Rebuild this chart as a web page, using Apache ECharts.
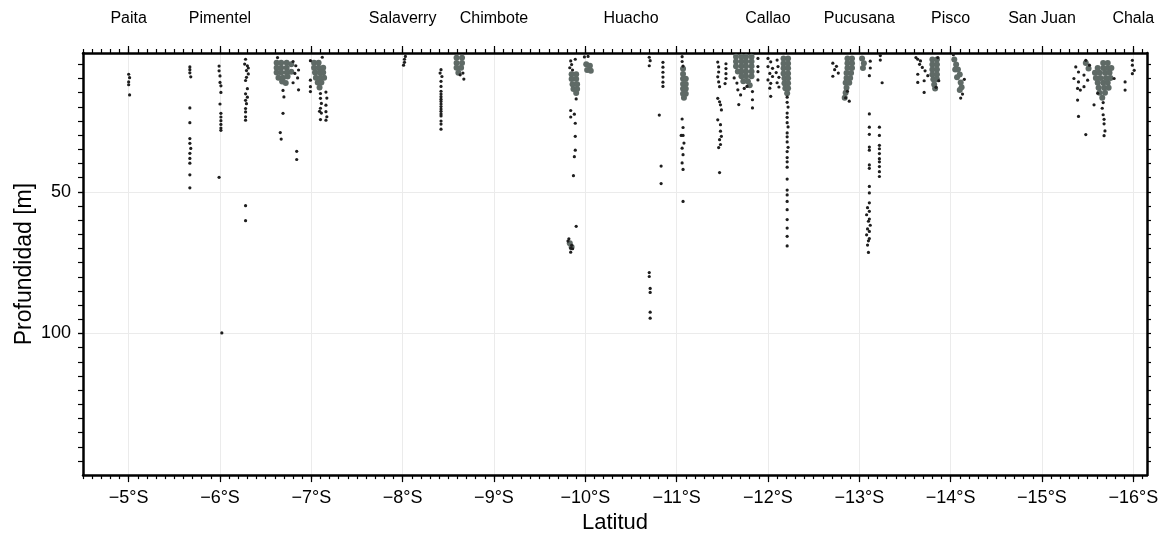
<!DOCTYPE html>
<html>
<head>
<meta charset="utf-8">
<script src="https://cdn.jsdelivr.net/npm/echarts@6/dist/echarts.min.js"></script>
<style>
  html, body { margin: 0; padding: 0; background: #fff; }
  #chart { width: 1165px; height: 539px; }
</style>
</head>
<body>
<div id="chart"></div>
<script>
// puertos arriba del grafico
var portNames = ['Paita', 'Pimentel', 'Salaverry', 'Chimbote', 'Huacho', 'Callao', 'Pucusana', 'Pisco', 'San Juan', 'Chala'];
var portLats = [-5, -6, -8, -9, -10.5, -12, -13, -14, -15, -16];
var latTicks = [-5, -6, -7, -8, -9, -10, -11, -12, -13, -14, -15, -16];
var depthLabels = [50, 100];
var depthTicks = [5, 10, 15, 20, 25, 30, 35, 40, 45, 50, 55, 60, 65, 70, 75, 80, 85, 90, 95, 100, 105, 110, 115, 120, 125, 130, 135, 140, 145];

// puntos sueltos [latitud, profundidad]
var dotsNorth = [
  [-5.00,8.5],[-5.01,9.7],[-5.00,11.2],[-5.00,12.2],[-5.01,15.8],
  [-5.67,5.9],[-5.67,6.9],[-5.67,8.0],[-5.68,9.4],[-5.67,20.4],[-5.67,25.6],[-5.67,31.2],[-5.67,32.9],[-5.68,34.7],[-5.67,36.4],[-5.67,38.2],[-5.67,39.9],[-5.67,44.0],[-5.67,48.6],
  [-5.99,5.6],[-5.99,7.3],[-6.00,9.1],[-6.00,11.4],[-6.01,12.6],[-6.01,14.9],[-6.00,19.0],[-6.01,22.3],[-6.01,23.6],[-6.01,24.9],[-6.01,26.2],[-6.01,27.5],[-6.01,28.3],[-5.99,44.9],[-6.02,99.8],
  [-6.28,3.2],[-6.27,4.9],[-6.30,5.5],[-6.31,6.3],[-6.29,7.2],[-6.31,8.4],[-6.29,9.6],[-6.28,10.7],[-6.30,13.6],[-6.28,15.4],[-6.30,16.6],[-6.28,17.7],[-6.29,18.9],[-6.28,20.6],[-6.28,21.8],[-6.28,23.5],[-6.28,24.7],[-6.28,54.9],[-6.28,60.2],
  [-6.63,2.6],[-6.69,14.2],[-6.86,14.0],[-6.70,16.5],[-6.69,22.3],[-6.66,29.1],[-6.67,31.4],[-6.84,35.7],[-6.84,38.6],
  [-6.80,4.0],[-6.83,5.5],[-6.86,7.0],[-6.82,8.2],[-6.85,9.8],[-6.80,11.5],
  [-6.99,3.7],[-7.12,2.5],[-6.99,10.6],[-6.99,12.9],[-6.99,14.6],[-7.10,15.3],[-7.10,17.0],[-7.11,18.8],[-7.10,20.5],[-7.11,22.2],[-7.10,24.5],
  [-7.16,19.4],[-7.16,21.7],[-7.17,23.5],[-7.16,24.7],[-7.09,21.6],[-7.16,14.8],[-7.17,16.9]
];
var dotsCentral = [
  [-8.03,2.2],[-8.02,3.2],[-8.02,4.3],[-8.01,5.3],
  [-8.42,6.9],[-8.41,8.1],[-8.43,9.3],[-8.42,11.0],[-8.42,12.8],[-8.42,14.5],[-8.42,15.5],[-8.42,16.4],[-8.42,17.3],[-8.42,18.1],[-8.42,19.0],[-8.42,19.9],[-8.42,20.8],[-8.42,21.6],[-8.42,22.5],[-8.42,23.2],[-8.42,25.0],[-8.42,26.1],[-8.42,27.9],
  [-8.66,8.1],[-8.67,10.2],[-8.63,8.7],
  [-9.89,3.2],[-9.84,3.8],[-9.85,5.1],[-9.83,6.2],[-9.86,7.0],[-9.90,17.2],[-9.84,21.3],[-9.84,23.6],[-9.88,22.6],[-9.89,25.8],[-9.89,30.4],[-9.89,35.3],[-9.88,37.6],[-9.87,44.3],[-9.90,62.2],
  [-9.82,66.6],[-9.81,67.4],[-9.85,68.9],[-9.84,69.9],[-9.86,70.1],[-9.84,71.3],
  [-10.03,2.2],[-9.99,2.4],
  [-10.70,2.5],[-10.71,3.7],[-10.70,5.5],[-10.70,78.5],[-10.70,79.9],[-10.71,84.1],[-10.71,85.5],[-10.71,92.5],[-10.71,94.6],
  [-10.85,4.3],[-10.85,6.0],[-10.85,7.8],[-10.85,9.5],[-10.85,11.3],[-10.85,12.8],[-10.81,22.9],[-10.83,40.9],[-10.83,47.1],
  [-11.06,2.3],[-11.06,4.0],[-11.07,5.6],[-11.06,24.3],[-11.07,27.3],[-11.07,30.1],[-11.05,30.1],[-11.08,32.8],[-11.06,34.6],[-11.07,36.9],[-11.06,39.8],[-11.07,42.1],[-11.07,53.4]
];
var dotsCallao = [
  [-11.45,4.2],[-11.46,5.9],[-11.46,7.7],[-11.45,9.4],[-11.46,11.2],[-11.47,12.9],[-11.54,4.8],[-11.54,6.5],[-11.54,8.3],[-11.54,10.0],[-11.53,11.8],
  [-11.45,17.0],[-11.47,18.2],[-11.48,19.3],[-11.49,21.1],[-11.45,24.6],[-11.48,26.3],[-11.48,28.6],[-11.49,30.4],[-11.47,31.6],[-11.48,33.3],[-11.46,34.4],[-11.47,43.2],
  [-11.67,14.0],[-11.70,15.8],[-11.68,19.2],[-11.77,12.8],[-11.83,14.6],[-11.83,17.5],[-11.83,20.4],[-11.89,2.9],[-11.89,5.8],[-11.89,7.6],[-11.89,10.5],[-11.74,13.5],[-11.66,11.6],[-11.63,9.8],
  [-12.00,2.9],[-12.03,4.1],[-12.00,5.8],[-12.05,6.4],[-12.02,8.2],[-12.05,9.3],[-12.00,10.5],[-12.03,11.7],[-12.02,13.4],[-12.03,16.3],
  [-12.10,3.5],[-12.11,5.8],[-12.09,7.9],[-12.12,9.6],[-12.10,11.5],[-12.12,13.0],
  [-12.21,16.6],[-12.21,18.4],[-12.22,20.1],[-12.21,22.2],[-12.21,23.7],[-12.21,25.6],[-12.22,27.1],[-12.21,29.2],[-12.21,30.6],[-12.21,32.4],[-12.22,34.3],[-12.21,35.8],[-12.21,37.9],[-12.21,39.4],[-12.21,41.3],
  [-12.21,45.5],[-12.21,49.4],[-12.21,51.1],[-12.21,53.4],[-12.21,56.3],[-12.21,59.8],[-12.21,62.8],[-12.21,65.7],[-12.21,69.1]
];
var dotsSouth = [
  [-12.71,4.6],[-12.75,5.7],[-12.73,6.9],[-12.77,8.1],[-12.71,9.2],
  [-12.87,14.5],[-12.85,16.8],[-12.89,18.0],
  [-13.12,3.9],[-13.12,6.3],[-13.11,9.0],[-13.23,1.9],[-13.23,3.5],[-13.25,11.5],
  [-13.11,22.5],[-13.11,27.2],[-13.11,29.7],[-13.11,34.2],[-13.11,35.3],[-13.11,40.5],[-13.11,41.7],[-13.11,48.1],[-13.11,50.4],[-13.11,53.9],
  [-13.09,55.6],[-13.11,56.9],[-13.08,58.1],[-13.11,59.6],[-13.10,60.4],[-13.12,61.8],[-13.09,63.1],[-13.11,64.0],[-13.08,65.2],[-13.11,66.5],[-13.10,67.3],[-13.09,68.8],[-13.10,71.4],
  [-13.22,27.2],[-13.22,30.1],[-13.22,33.6],[-13.22,34.8],[-13.22,36.5],[-13.22,38.3],[-13.22,39.4],[-13.22,41.1],[-13.22,42.9],[-13.22,44.6],
  [-13.64,3.2],[-13.67,3.8],[-13.66,5.0],[-13.62,2.6],[-13.69,6.1],[-13.72,7.3],[-13.64,8.5],[-13.75,9.0],[-13.71,10.8],[-13.64,11.4],[-13.71,14.9],[-13.84,13.1],[-13.87,10.8],[-13.86,2.6],
  [-14.13,15.5],[-14.11,16.9],[-14.03,1.6],[-14.15,10.3],
  [-15.67,18.5],[-15.66,20.5],[-15.67,22.8],[-15.68,24.4],[-15.68,26.0],[-15.69,28.5],[-15.68,30.2],
  [-15.48,3.6],[-15.52,5.3],[-15.37,5.9],[-15.40,7.7],[-15.46,8.8],[-15.35,10.0],[-15.40,11.2],[-15.50,10.6],[-15.39,13.5],[-15.46,12.9],[-15.42,14.1],[-15.39,17.6],[-15.40,23.4],[-15.48,29.8],[-15.57,19.3],[-15.61,15.2],[-15.79,10.0],
  [-15.91,11.2],[-15.91,14.1],[-15.99,3.6],[-15.99,5.3],[-16.01,7.1],[-15.99,8.3]
];

// zonas densas (cardumenes)
var denseNorth = [
  [-6.62,4.4],[-6.67,4.4],[-6.73,4.4],[-6.78,5.0],[-6.62,6.2],[-6.67,6.2],[-6.73,6.2],[-6.62,7.9],[-6.67,7.9],[-6.73,7.9],[-6.78,7.6],[-6.64,9.7],[-6.69,9.7],[-6.74,9.3],[-6.68,11.1],[-6.72,11.6],
  [-7.03,4.4],[-7.08,4.4],[-7.03,6.2],[-7.08,6.2],[-7.13,6.2],[-7.04,7.9],[-7.09,7.9],[-7.13,7.9],[-7.05,9.7],[-7.10,9.7],[-7.14,9.7],[-7.07,11.4],[-7.11,11.4],[-7.09,13.2]
];
var denseCentral = [
  [-8.59,2.7],[-8.65,2.7],[-8.59,4.5],[-8.65,4.5],[-8.59,6.2],[-8.64,6.2],[-8.61,8.0],
  [-9.85,8.5],[-9.90,8.5],[-9.85,10.2],[-9.90,10.2],[-9.86,12.0],[-9.91,12.0],[-9.87,13.7],[-9.91,13.7],[-9.90,15.1],[-9.83,68.2],[-9.85,69.5],
  [-10.01,5.0],[-10.05,5.5],[-10.02,7.0],[-10.06,7.3],
  [-11.07,6.6],[-11.07,8.4],[-11.07,10.1],[-11.10,10.1],[-11.07,11.9],[-11.10,11.9],[-11.07,13.6],[-11.10,13.6],[-11.07,15.4],[-11.10,15.4],[-11.08,16.8]
];
var denseCallao = [
  [-11.65,2.3],[-11.71,2.3],[-11.76,2.3],[-11.82,2.3],[-11.65,4.0],[-11.71,4.0],[-11.76,4.0],[-11.82,4.0],[-11.65,5.7],[-11.71,5.7],[-11.76,5.7],[-11.82,5.7],
  [-11.67,7.5],[-11.71,7.5],[-11.76,7.5],[-11.82,7.5],[-11.71,9.2],[-11.76,9.2],[-11.82,9.2],[-11.73,11.0],[-11.78,11.0],[-11.80,12.4],
  [-12.17,2.9],[-12.22,2.9],[-12.17,4.7],[-12.22,4.7],[-12.17,6.4],[-12.22,6.4],[-12.17,8.2],[-12.22,8.2],[-12.18,9.9],[-12.22,9.9],[-12.18,11.7],[-12.22,11.7],[-12.19,13.4],[-12.22,13.4],[-12.21,15.2]
];
var denseSouth = [
  [-12.87,2.9],[-12.92,2.9],[-12.87,4.6],[-12.92,4.6],[-12.87,6.3],[-12.92,6.3],[-12.86,8.1],[-12.91,8.1],[-12.86,9.8],[-12.90,9.8],[-12.85,11.5],[-12.89,11.5],[-12.86,13.3],[-12.85,15.0],[-12.84,16.8],
  [-13.03,2.9],[-13.05,4.6],[-13.04,6.3],
  [-13.80,3.3],[-13.85,3.3],[-13.80,5.1],[-13.85,5.1],[-13.80,6.8],[-13.85,6.8],[-13.80,8.6],[-13.85,8.6],[-13.81,10.3],[-13.85,10.3],[-13.82,12.1],[-13.83,13.5],
  [-14.04,3.3],[-14.06,5.1],[-14.05,6.8],[-14.08,6.8],[-14.10,8.6],[-14.07,9.6],[-14.11,11.4],[-14.12,13.1],[-14.10,14.1],
  [-15.67,4.5],[-15.72,4.5],[-15.61,6.3],[-15.67,6.3],[-15.72,6.3],[-15.76,6.3],[-15.58,8.0],[-15.63,8.0],[-15.69,8.0],[-15.74,8.0],
  [-15.59,9.8],[-15.64,9.8],[-15.70,9.8],[-15.75,9.8],[-15.61,11.5],[-15.67,11.5],[-15.72,11.5],[-15.62,13.3],[-15.68,13.3],[-15.73,13.3],
  [-15.63,15.0],[-15.69,15.0],[-15.66,16.8],[-15.48,4.5],[-15.51,6.5]
];

var minorLatTicks = [];
for (var i = -161; i <= -45; i++) minorLatTicks.push(i / 10);

var font = 'Liberation Sans, Arial, sans-serif';
var black = '#000';
var LAT_MIN = -16.15, LAT_MAX = -4.5;

function latAxis(pos, ticks, len, opts) {
  return Object.assign({
    type: 'value', position: pos, min: LAT_MIN, max: LAT_MAX, inverse: true,
    axisLine: { show: false },
    axisTick: { show: true, customValues: ticks, length: len, lineStyle: { color: black, width: 1.2 } },
    axisLabel: { show: false },
    splitLine: { show: false }
  }, opts || {});
}
function depthAxis(pos, ticks, len, opts) {
  return Object.assign({
    type: 'value', position: pos, min: 1, max: 150, inverse: true,
    axisLine: { show: false },
    axisTick: { show: true, customValues: ticks, length: len, lineStyle: { color: black, width: 1.2 } },
    axisLabel: { show: false },
    splitLine: { show: false }
  }, opts || {});
}

var myChart = echarts.init(document.getElementById('chart'));
myChart.setOption({
  animation: false,
  backgroundColor: '#fff',
  textStyle: { fontFamily: font },
  grid: { left: 83, right: 18, top: 53, bottom: 59 },
  xAxis: [
    latAxis('bottom', latTicks, 7, {
      axisLine: { show: true, onZero: false, lineStyle: { color: black, width: 2.5 } },
      axisLabel: {
        show: true, customValues: latTicks, margin: 14, color: black, fontSize: 18, fontFamily: font,
        formatter: function (v) { return '\u2212' + Math.abs(v) + '°S'; }
      },
      splitLine: { show: true, lineStyle: { color: '#ebebeb', width: 1 } },
      name: 'Latitud', nameLocation: 'middle', nameGap: 36,
      nameTextStyle: { color: black, fontSize: 22, fontFamily: font }
    }),
    latAxis('bottom', minorLatTicks, 4),
    latAxis('top', latTicks, 7, {
      axisLine: { show: true, onZero: false, lineStyle: { color: black, width: 2.5 } }
    }),
    latAxis('top', minorLatTicks, 4),
    latAxis('top', portLats, 0, {
      axisTick: { show: false },
      axisLabel: {
        show: true, customValues: portLats, margin: 26, color: black, fontSize: 16, fontFamily: font,
        formatter: function (v) {
          for (var k = 0; k < portLats.length; k++) {
            if (Math.abs(portLats[k] - v) < 1e-6) return portNames[k];
          }
          return '';
        }
      }
    })
  ],
  yAxis: [
    depthAxis('left', depthLabels, 5, {
      axisLine: { show: true, onZero: false, lineStyle: { color: black, width: 2.5 } },
      axisLabel: { show: true, customValues: depthLabels, margin: 12, color: black, fontSize: 18, fontFamily: font },
      splitLine: { show: true, lineStyle: { color: '#ebebeb', width: 1 } },
      name: 'Profundidad [m]', nameLocation: 'middle', nameGap: 47, nameMoveOverlap: false,
      nameTextStyle: { color: black, fontSize: 23, fontFamily: font }
    }),
    depthAxis('left', depthTicks, 5),
    depthAxis('right', depthTicks, 4, {
      axisLine: { show: true, onZero: false, lineStyle: { color: black, width: 2.5 } }
    })
  ],
  series: [
    {
      name: 'densos', type: 'scatter', xAxisIndex: 0, yAxisIndex: 0, silent: true,
      symbolSize: 6, itemStyle: { color: '#5f6a66', opacity: 1 },
      data: denseNorth.concat(denseCentral, denseCallao, denseSouth)
    },
    {
      name: 'puntos', type: 'scatter', xAxisIndex: 0, yAxisIndex: 0, silent: true,
      symbolSize: 3.2, itemStyle: { color: '#1e1e1e', opacity: 1 },
      data: dotsNorth.concat(dotsCentral, dotsCallao, dotsSouth)
    }
  ]
});
</script>
</body>
</html>
